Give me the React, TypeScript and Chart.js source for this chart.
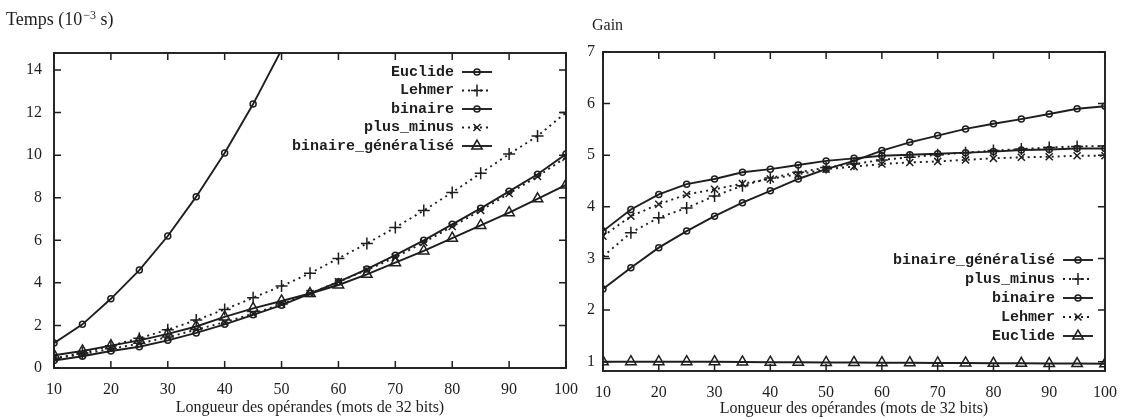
import React, { useEffect, useRef } from 'react';
import { Chart, registerables } from 'chart.js';

Chart.register(...registerables);

// ---------- data ----------
const lengths = [10, 15, 20, 25, 30, 35, 40, 45, 50, 55, 60, 65, 70, 75, 80, 85, 90, 95, 100];
const xTickValues = [10, 20, 30, 40, 50, 60, 70, 80, 90, 100];
const timeTicks = [0, 2, 4, 6, 8, 10, 12, 14];
const gainTicks = [1, 2, 3, 4, 5, 6, 7];

// Left chart: Temps (10^-3 s)
const tEuclideX = [10, 15, 20, 25, 30, 35, 40, 45, 50, 55];
const tEuclide = [1.17, 2.05, 3.25, 4.6, 6.2, 8.05, 10.1, 12.4, 14.95, 17.8];
const tLehmer = [0.45, 0.7, 1.05, 1.4, 1.8, 2.25, 2.75, 3.3, 3.85, 4.45, 5.15, 5.85, 6.6, 7.4, 8.25, 9.15, 10.05, 10.9, 12.0];
const tBinaire = [0.35, 0.55, 0.8, 1.0, 1.3, 1.65, 2.05, 2.5, 2.95, 3.5, 4.05, 4.65, 5.3, 6.0, 6.75, 7.5, 8.3, 9.1, 10.05];
const tPlusMinus = [0.45, 0.65, 0.9, 1.15, 1.45, 1.8, 2.15, 2.55, 3.0, 3.5, 4.05, 4.6, 5.2, 5.9, 6.65, 7.4, 8.2, 9.0, 9.9];
const tBinGen = [0.6, 0.8, 1.05, 1.3, 1.6, 1.95, 2.4, 2.8, 3.15, 3.5, 3.9, 4.4, 4.95, 5.5, 6.1, 6.7, 7.3, 7.95, 8.6];

// Right chart: Gain
const gBinGen = [2.41, 2.82, 3.21, 3.53, 3.82, 4.08, 4.31, 4.54, 4.73, 4.89, 5.09, 5.25, 5.38, 5.51, 5.61, 5.7, 5.8, 5.9, 5.95];
const gPlusMinus = [3.04, 3.5, 3.79, 3.98, 4.21, 4.41, 4.56, 4.67, 4.76, 4.83, 4.91, 4.96, 5.01, 5.05, 5.09, 5.12, 5.15, 5.17, 5.18];
const gBinaire = [3.53, 3.95, 4.24, 4.44, 4.54, 4.67, 4.73, 4.81, 4.89, 4.94, 4.99, 5.01, 5.03, 5.05, 5.07, 5.1, 5.11, 5.13, 5.13];
const gLehmer = [3.43, 3.82, 4.05, 4.24, 4.34, 4.45, 4.54, 4.63, 4.73, 4.78, 4.83, 4.86, 4.88, 4.91, 4.94, 4.96, 4.97, 4.99, 4.99];
const gEuclide = [1.0, 1.0, 1.0, 1.0, 1.0, 0.995, 0.99, 0.99, 0.985, 0.985, 0.98, 0.98, 0.975, 0.975, 0.97, 0.97, 0.965, 0.965, 0.96];

// ---------- styling ----------
const INK = '#1e1e1e';
const SERIF = '"Liberation Serif", "DejaVu Serif", serif';
const MONO = '"Liberation Mono", "DejaVu Sans Mono", monospace';
const X_TITLE = 'Longueur des opérandes (mots de 32 bits)';

type Series = { label: string; xs: number[]; ys: number[]; style: string; radius: number; dotted: boolean };

const leftSeries: Series[] = [
  { label: 'Euclide', xs: tEuclideX, ys: tEuclide, style: 'circle', radius: 3, dotted: false },
  { label: 'Lehmer', xs: lengths, ys: tLehmer, style: 'cross', radius: 6, dotted: true },
  { label: 'binaire', xs: lengths, ys: tBinaire, style: 'circle', radius: 3, dotted: false },
  { label: 'plus_minus', xs: lengths, ys: tPlusMinus, style: 'crossRot', radius: 5, dotted: true },
  { label: 'binaire_généralisé', xs: lengths, ys: tBinGen, style: 'triangle', radius: 6, dotted: false },
];

const rightSeries: Series[] = [
  { label: 'binaire_généralisé', xs: lengths, ys: gBinGen, style: 'circle', radius: 3, dotted: false },
  { label: 'plus_minus', xs: lengths, ys: gPlusMinus, style: 'cross', radius: 6, dotted: true },
  { label: 'binaire', xs: lengths, ys: gBinaire, style: 'circle', radius: 3, dotted: false },
  { label: 'Lehmer', xs: lengths, ys: gLehmer, style: 'crossRot', radius: 5, dotted: true },
  { label: 'Euclide', xs: lengths, ys: gEuclide, style: 'triangle', radius: 6, dotted: false },
];

function buildDatasets(series: Series[]) {
  return series.map((s) => ({
    label: s.label,
    data: s.ys.map((y, i) => ({ x: s.xs[i], y })),
    borderColor: INK,
    borderWidth: 1.9,
    borderDash: s.dotted ? [2, 4] : [],
    pointStyle: s.style,
    pointRadius: s.radius,
    pointBorderWidth: 1.5,
    pointBorderColor: INK,
    pointBackgroundColor: 'rgba(0,0,0,0)',
    tension: 0,
    fill: false,
  }));
}

function drawMarker(ctx: CanvasRenderingContext2D, style: string, x: number, y: number, r: number) {
  ctx.beginPath();
  if (style === 'circle') {
    ctx.arc(x, y, r, 0, Math.PI * 2);
  } else if (style === 'cross') {
    ctx.moveTo(x - r, y); ctx.lineTo(x + r, y);
    ctx.moveTo(x, y - r); ctx.lineTo(x, y + r);
  } else if (style === 'crossRot') {
    const d = r * Math.SQRT1_2;
    ctx.moveTo(x - d, y - d); ctx.lineTo(x + d, y + d);
    ctx.moveTo(x - d, y + d); ctx.lineTo(x + d, y - d);
  } else if (style === 'triangle') {
    const a = (2 * Math.PI) / 3;
    ctx.moveTo(x, y - r);
    ctx.lineTo(x + Math.sin(a) * r, y - Math.cos(a) * r);
    ctx.lineTo(x + Math.sin(2 * a) * r, y - Math.cos(2 * a) * r);
    ctx.closePath();
  }
  ctx.stroke();
}

type LegendCfg = { textRight: number; top: number; gap: number; sampleStart: number; sampleLen: number };

const framePlugin = {
  id: 'gnuplotFrame',
  beforeDatasetsDraw(chart: any) {
    const { ctx, chartArea } = chart;
    const { left, right, top, bottom } = chartArea;
    ctx.save();
    ctx.strokeStyle = INK;
    ctx.lineWidth = 1.9;
    ctx.strokeRect(left, top, right - left, bottom - top);
    ctx.lineWidth = 1.5;
    const tl = 7;
    const xs = chart.scales.x;
    const ys = chart.scales.y;
    ctx.beginPath();
    xs.ticks.forEach((t: any) => {
      const px = xs.getPixelForValue(t.value);
      ctx.moveTo(px, bottom); ctx.lineTo(px, bottom - tl);
      ctx.moveTo(px, top); ctx.lineTo(px, top + tl);
    });
    ys.ticks.forEach((t: any) => {
      const py = ys.getPixelForValue(t.value);
      ctx.moveTo(left, py); ctx.lineTo(left + tl, py);
      ctx.moveTo(right, py); ctx.lineTo(right - tl, py);
    });
    ctx.stroke();
    ctx.restore();
  },
};

const keyPlugin = {
  id: 'gnuplotKey',
  afterDraw(chart: any, _args: any, opts: any) {
    const cfg: LegendCfg = opts.cfg;
    if (!cfg) return;
    const { ctx } = chart;
    ctx.save();
    ctx.font = `bold 15px ${MONO}`;
    ctx.fillStyle = INK;
    ctx.textAlign = 'right';
    ctx.textBaseline = 'middle';
    chart.data.datasets.forEach((ds: any, i: number) => {
      const y = cfg.top + i * cfg.gap;
      ctx.fillText(ds.label, cfg.textRight, y);
      ctx.strokeStyle = INK;
      ctx.lineWidth = ds.borderWidth;
      ctx.setLineDash(ds.borderDash || []);
      ctx.beginPath();
      ctx.moveTo(cfg.sampleStart, y);
      ctx.lineTo(cfg.sampleStart + cfg.sampleLen, y);
      ctx.stroke();
      ctx.setLineDash([]);
      ctx.lineWidth = ds.pointBorderWidth;
      drawMarker(ctx, ds.pointStyle, cfg.sampleStart + cfg.sampleLen / 2, y, ds.pointRadius);
    });
    ctx.restore();
  },
};

type PanelCfg = {
  left: number;
  width: number;
  series: Series[];
  padTop: number;
  padRight: number;
  yWidth: number;
  xHeight: number;
  yMin: number;
  yMax: number;
  yTicks: number[];
  yPad: number;
  xPad: number;
  titlePad: number;
  legend: LegendCfg;
};

function Panel({ cfg }: { cfg: PanelCfg }) {
  const ref = useRef<HTMLCanvasElement | null>(null);
  useEffect(() => {
    if (!ref.current) return;
    const tickFont = { family: SERIF, size: 16 };
    const chart = new Chart(ref.current, {
      type: 'line',
      data: { datasets: buildDatasets(cfg.series) as any },
      options: {
        animation: false,
        responsive: false,
        devicePixelRatio: 1,
        events: [],
        layout: { padding: { top: cfg.padTop, right: cfg.padRight, left: 0, bottom: 0 } },
        scales: {
          x: {
            type: 'linear',
            min: 10,
            max: 100,
            grid: { display: false, drawTicks: false },
            border: { display: false },
            afterBuildTicks: (scale: any) => {
              scale.ticks = xTickValues.map((v) => ({ value: v }));
            },
            afterFit: (scale: any) => {
              scale.height = cfg.xHeight;
            },
            ticks: { color: INK, font: tickFont, padding: cfg.xPad, maxRotation: 0, autoSkip: false },
            title: {
              display: true,
              text: X_TITLE,
              color: INK,
              font: { family: SERIF, size: 16 },
              padding: { top: 0, bottom: cfg.titlePad },
            },
          },
          y: {
            type: 'linear',
            min: cfg.yMin,
            max: cfg.yMax,
            grid: { display: false, drawTicks: false },
            border: { display: false },
            afterBuildTicks: (scale: any) => {
              scale.ticks = cfg.yTicks.map((v) => ({ value: v }));
            },
            afterFit: (scale: any) => {
              scale.width = cfg.yWidth;
            },
            ticks: { color: INK, font: tickFont, padding: cfg.yPad },
          },
        },
        plugins: {
          legend: { display: false },
          tooltip: { enabled: false },
          gnuplotKey: { cfg: cfg.legend },
        } as any,
      },
      plugins: [framePlugin, keyPlugin],
    });
    return () => chart.destroy();
  }, [cfg]);
  return (
    <canvas
      ref={ref}
      width={cfg.width}
      height={420}
      style={{ position: 'absolute', left: cfg.left, top: 0, width: cfg.width, height: 420 }}
    />
  );
}

const leftPanel: PanelCfg = {
  left: 0,
  width: 590,
  series: leftSeries,
  padTop: 53,
  padRight: 22,
  yWidth: 54,
  xHeight: 52,
  yMin: 0,
  yMax: 14.8,
  yTicks: timeTicks,
  yPad: 12,
  xPad: 12,
  titlePad: 3,
  legend: { textRight: 454, top: 72, gap: 18.5, sampleStart: 462, sampleLen: 30 },
};

const rightPanel: PanelCfg = {
  left: 560,
  width: 569,
  series: rightSeries,
  padTop: 52,
  padRight: 16,
  yWidth: 43,
  xHeight: 49,
  yMin: 0.82,
  yMax: 7,
  yTicks: gainTicks,
  yPad: 8,
  xPad: 12,
  titlePad: 2,
  legend: { textRight: 495, top: 260, gap: 19, sampleStart: 503, sampleLen: 30 },
};

export default function App() {
  const titleStyle: React.CSSProperties = {
    position: 'absolute',
    fontFamily: SERIF,
    color: INK,
    lineHeight: '20px',
    whiteSpace: 'nowrap',
  };
  return (
    <div style={{ position: 'absolute', left: 0, top: 0, width: 1129, height: 420, background: '#fff', overflow: 'hidden' }}>
      <Panel cfg={leftPanel} />
      <Panel cfg={rightPanel} />
      <div style={{ ...titleStyle, left: 6, top: 9, fontSize: 18 }}>
        Temps (10<sup style={{ fontSize: 12, verticalAlign: 'top', position: 'relative', top: -4, marginLeft: 1 }}>−3</sup> s)
      </div>
      <div style={{ ...titleStyle, left: 592, top: 15, fontSize: 16 }}>Gain</div>
    </div>
  );
}
